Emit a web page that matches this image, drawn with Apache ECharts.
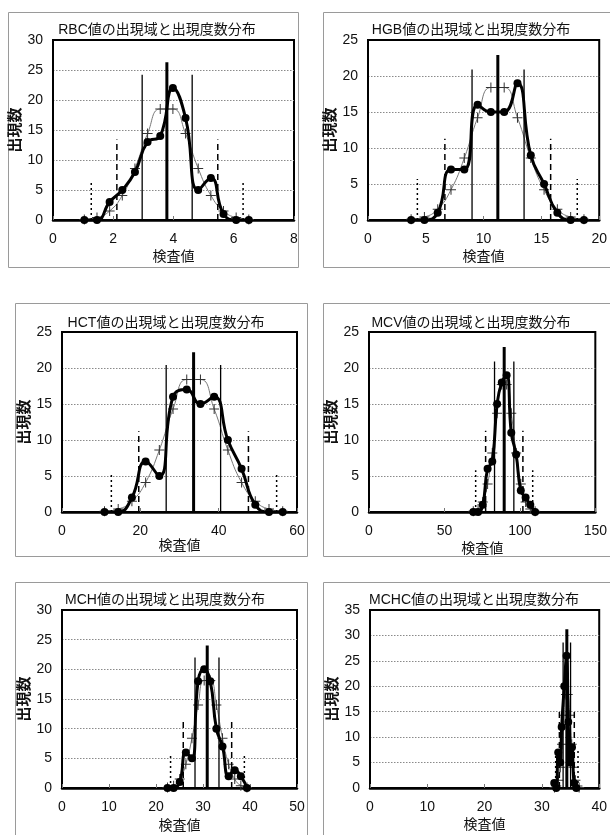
<!DOCTYPE html>
<html>
<head>
<meta charset="utf-8">
<script src="https://cdn.jsdelivr.net/npm/echarts@6/dist/echarts.min.js"></script>
<style>
html,body{margin:0;padding:0;background:#fff;}
#chart{width:610px;height:835px;}
</style>
</head>
<body>
<div id="chart"></div>
<script>
// ---------- data ----------
const titles = ['RBC値の出現域と出現度数分布','HGB値の出現域と出現度数分布','HCT値の出現域と出現度数分布','MCV値の出現域と出現度数分布','MCH値の出現域と出現度数分布','MCHC値の出現域と出現度数分布'];
const yName = '出現数';
const xName = '検査値';

const rbcX   = [1.04,1.46,1.88,2.30,2.72,3.14,3.56,3.98,4.40,4.82,5.24,5.66,6.08,6.50];
const rbcObs = [0,0,3,5,8,13,14,22,17,5,7,1,0,0];
const rbcFit = [0.1,0.4,1.5,4.1,8.6,14.4,18.5,18.5,14.4,8.6,4.1,1.5,0.4,0.1];
const rbcLineX = [1.27,2.12,2.96,3.78,4.62,5.47,6.31];
const rbcLineH = [6.2,13.4,24.2,26.3,24.2,13.4,6.2];

const hgbX   = [3.73,4.88,6.03,7.18,8.33,9.48,10.63,11.78,12.93,14.08,15.23,16.38,17.53,18.68];
const hgbObs = [0,0,1,7,7,16,15,15,19,9,5,1,0,0];
const hgbFit = [0.1,0.4,1.5,4.2,8.6,14.2,18.4,18.4,14.2,8.6,4.2,1.5,0.4,0.1];
const hgbLineX = [4.27,6.65,9.0,11.23,13.5,15.8,18.1];
const hgbLineH = [5.7,11.3,20.9,22.9,20.9,11.3,5.7];

const hctX   = [10.85,14.35,17.85,21.35,24.85,28.35,31.85,35.35,38.85,42.35,45.85,49.35,52.85,56.35];
const hctObs = [0,0,2,7,5,16,17,15,16,10,6,1,0,0];
const hctFit = [0.1,0.4,1.5,4.1,8.6,14.3,18.4,18.4,14.3,8.6,4.1,1.5,0.4,0.1];
const hctLineX = [12.6,19.6,26.6,33.6,40.5,47.6,54.8];
const hctLineH = [5.2,11.2,20.4,22.2,20.4,11.2,5.2];

const mcvX   = [69.1,72.3,75.4,78.6,81.7,84.9,88.0,91.2,94.3,97.5,100.6,103.8,106.9,110.1];
const mcvObs = [0,0,1,6,7,15,18,19,11,8,3,2,1,0];
const mcvFit = [0.1,0.4,1.4,3.9,8.2,13.7,17.7,17.7,13.7,8.2,3.9,1.4,0.4,0.1];
const mcvLineX = [70.7,77.3,83.2,89.6,96.0,102.0,108.5];
const mcvLineH = [5.8,11.3,20.9,22.9,20.9,11.3,5.8];

const mchX   = [22.45,23.75,25.05,26.35,27.65,28.95,30.25,31.55,32.85,34.15,35.45,36.75,38.05,39.35];
const mchObs = [0,0,1,6,5,18,20,18,10,7,2,3,2,0];
const mchFit = [0.1,0.4,1.5,4.0,8.4,14.0,18.1,18.1,14.0,8.4,4.0,1.5,0.4,0.1];
const mchLineX = [23.1,25.8,28.3,30.9,33.4,36.1,38.8];
const mchLineH = [5.9,11.4,22.0,24.0,22.0,11.4,5.9];

const mchcX   = [32.15,32.5,32.85,33.2,33.45,33.9,34.3,34.6,34.9,35.25,35.6,36.0];
const mchcObs = [1,0,7,5,12,20,26,13,5,8,1,0];
const mchcFitX = [32.2,32.5,32.85,33.2,33.5,33.85,34.2,34.5,34.85,35.2,35.5,35.85,36.2,36.5];
const mchcFit  = [0.1,0.4,1.5,4.1,8.6,14.3,18.4,18.4,14.3,8.6,4.1,1.5,0.4,0.1];
const mchcLineX = [32.4,33.05,33.7,34.35,35.0,35.65,36.3];
const mchcLineH = [7.6,15.4,28.6,31.2,28.6,15.4,7.6];

const xMax = [8,20,60,150,50,40];
const xInt = [2,5,20,50,10,10];
const yMax = [30,25,25,25,30,35];

// ---------- layout / style ----------
const panels = [
  {x:rbcX, obs:rbcObs, fx:rbcX, fit:rbcFit, lx:rbcLineX, lh:rbcLineH},
  {x:hgbX, obs:hgbObs, fx:hgbX, fit:hgbFit, lx:hgbLineX, lh:hgbLineH},
  {x:hctX, obs:hctObs, fx:hctX, fit:hctFit, lx:hctLineX, lh:hctLineH},
  {x:mcvX, obs:mcvObs, fx:mcvX, fit:mcvFit, lx:mcvLineX, lh:mcvLineH},
  {x:mchX, obs:mchObs, fx:mchX, fit:mchFit, lx:mchLineX, lh:mchLineH},
  {x:mchcX, obs:mchcObs, fx:mchcFitX, fit:mchcFit, lx:mchcLineX, lh:mchcLineH}
];
const grids = [
  {left:53, top:40, width:241, height:180},
  {left:368, top:40, width:236, height:180},
  {left:62, top:332, width:235, height:180},
  {left:369, top:332, width:232, height:180},
  {left:62, top:610, width:235, height:178},
  {left:370, top:610, width:233, height:178}
];
const frames = [
  [8,12,290,255],[323,12,300,255],
  [15,303,292,253],[323,303,300,253],
  [15,582,292,270],[323,582,300,270]
];
const titlePos = [[152,18],[466,18],[161,311],[466,311],[160,588],[469,588]];
const xNameGap = [30,30,27,30,31,30];
const vStyles = [
  {width:1.5, type:[2,3]},
  {width:1.5, type:[6,4]},
  {width:1.3, type:'solid'},
  {width:3, type:'solid'},
  {width:1.3, type:'solid'},
  {width:1.5, type:[6,4]},
  {width:1.5, type:[2,3]}
];
const FONT = "'Liberation Sans', 'Noto Sans CJK JP', sans-serif";
const plusPath = 'path://M0,4.5H10V5.5H0Z M4.5,0H5.5V10H4.5Z';

const option = {
  animation:false,
  backgroundColor:'#fff',
  title:[], grid:[], xAxis:[], yAxis:[], series:[],
  graphic: frames.map(f=>({type:'rect', shape:{x:f[0]+0.5,y:f[1]+0.5,width:f[2],height:f[3]}, style:{fill:null, stroke:'#9a9a9a', lineWidth:1}, z:-10}))
};

panels.forEach((p,i)=>{
  option.title.push({text:titles[i], left:titlePos[i][0], top:titlePos[i][1], textAlign:'center',
    textStyle:{fontFamily:FONT, fontSize:14, fontWeight:'normal', color:'#111'}});
  option.grid.push(Object.assign({show:true, borderColor:'#000', borderWidth:2, backgroundColor:'transparent'}, grids[i]));
  option.xAxis.push({type:'value', gridIndex:i, min:0, max:xMax[i], interval:xInt[i],
    name:xName, nameLocation:'middle', nameGap:xNameGap[i],
    nameTextStyle:{fontFamily:FONT, fontSize:14, color:'#111'},
    axisLine:{show:true, onZero:false, lineStyle:{color:'#000', width:2.5}},
    axisTick:{show:true, inside:true, length:4, lineStyle:{color:'#777'}},
    axisLabel:{fontFamily:FONT, fontSize:14, color:'#111', margin:12},
    splitLine:{show:false}});
  option.yAxis.push({type:'value', gridIndex:i, min:0, max:yMax[i], interval:5,
    name:yName, nameLocation:'middle', nameGap:30,
    nameTextStyle:{fontFamily:FONT, fontSize:15, color:'#111', fontWeight:'bold'},
    axisLine:{show:true, lineStyle:{color:'#000', width:2}},
    axisTick:{show:false},
    axisLabel:{fontFamily:FONT, fontSize:14, color:'#111', margin:10},
    splitLine:{show:true, showMinLine:false, showMaxLine:false, lineStyle:{color:'#8a8a8a', type:[1.5,1.5], width:1}}});
  // fitted normal curve
  option.series.push({type:'line', xAxisIndex:i, yAxisIndex:i, smooth:true,
    data:p.fx.map((x,k)=>[x,p.fit[k]]),
    symbol:plusPath, symbolSize:10, showAllSymbol:true,
    itemStyle:{color:'#333'}, lineStyle:{color:'#777', width:1}, z:2});
  // observed counts
  option.series.push({type:'line', xAxisIndex:i, yAxisIndex:i, smooth:true,
    data:p.x.map((x,k)=>[x,p.obs[k]]),
    symbol:'circle', symbolSize:8, showAllSymbol:true,
    itemStyle:{color:'#000'}, lineStyle:{color:'#000', width:3}, z:3});
  // range lines (mean, ±1SD, ±2SD, ±3SD)
  p.lx.forEach((x,k)=>{
    option.series.push({type:'line', xAxisIndex:i, yAxisIndex:i, symbol:'none',
      data:[[x,0],[x,p.lh[k]]],
      lineStyle:{color:'#000', width:vStyles[k].width, type:vStyles[k].type}, z:4});
  });
});

const chart = echarts.init(document.getElementById('chart'), null, {renderer:'canvas'});
chart.setOption(option);
</script>
</body>
</html>
